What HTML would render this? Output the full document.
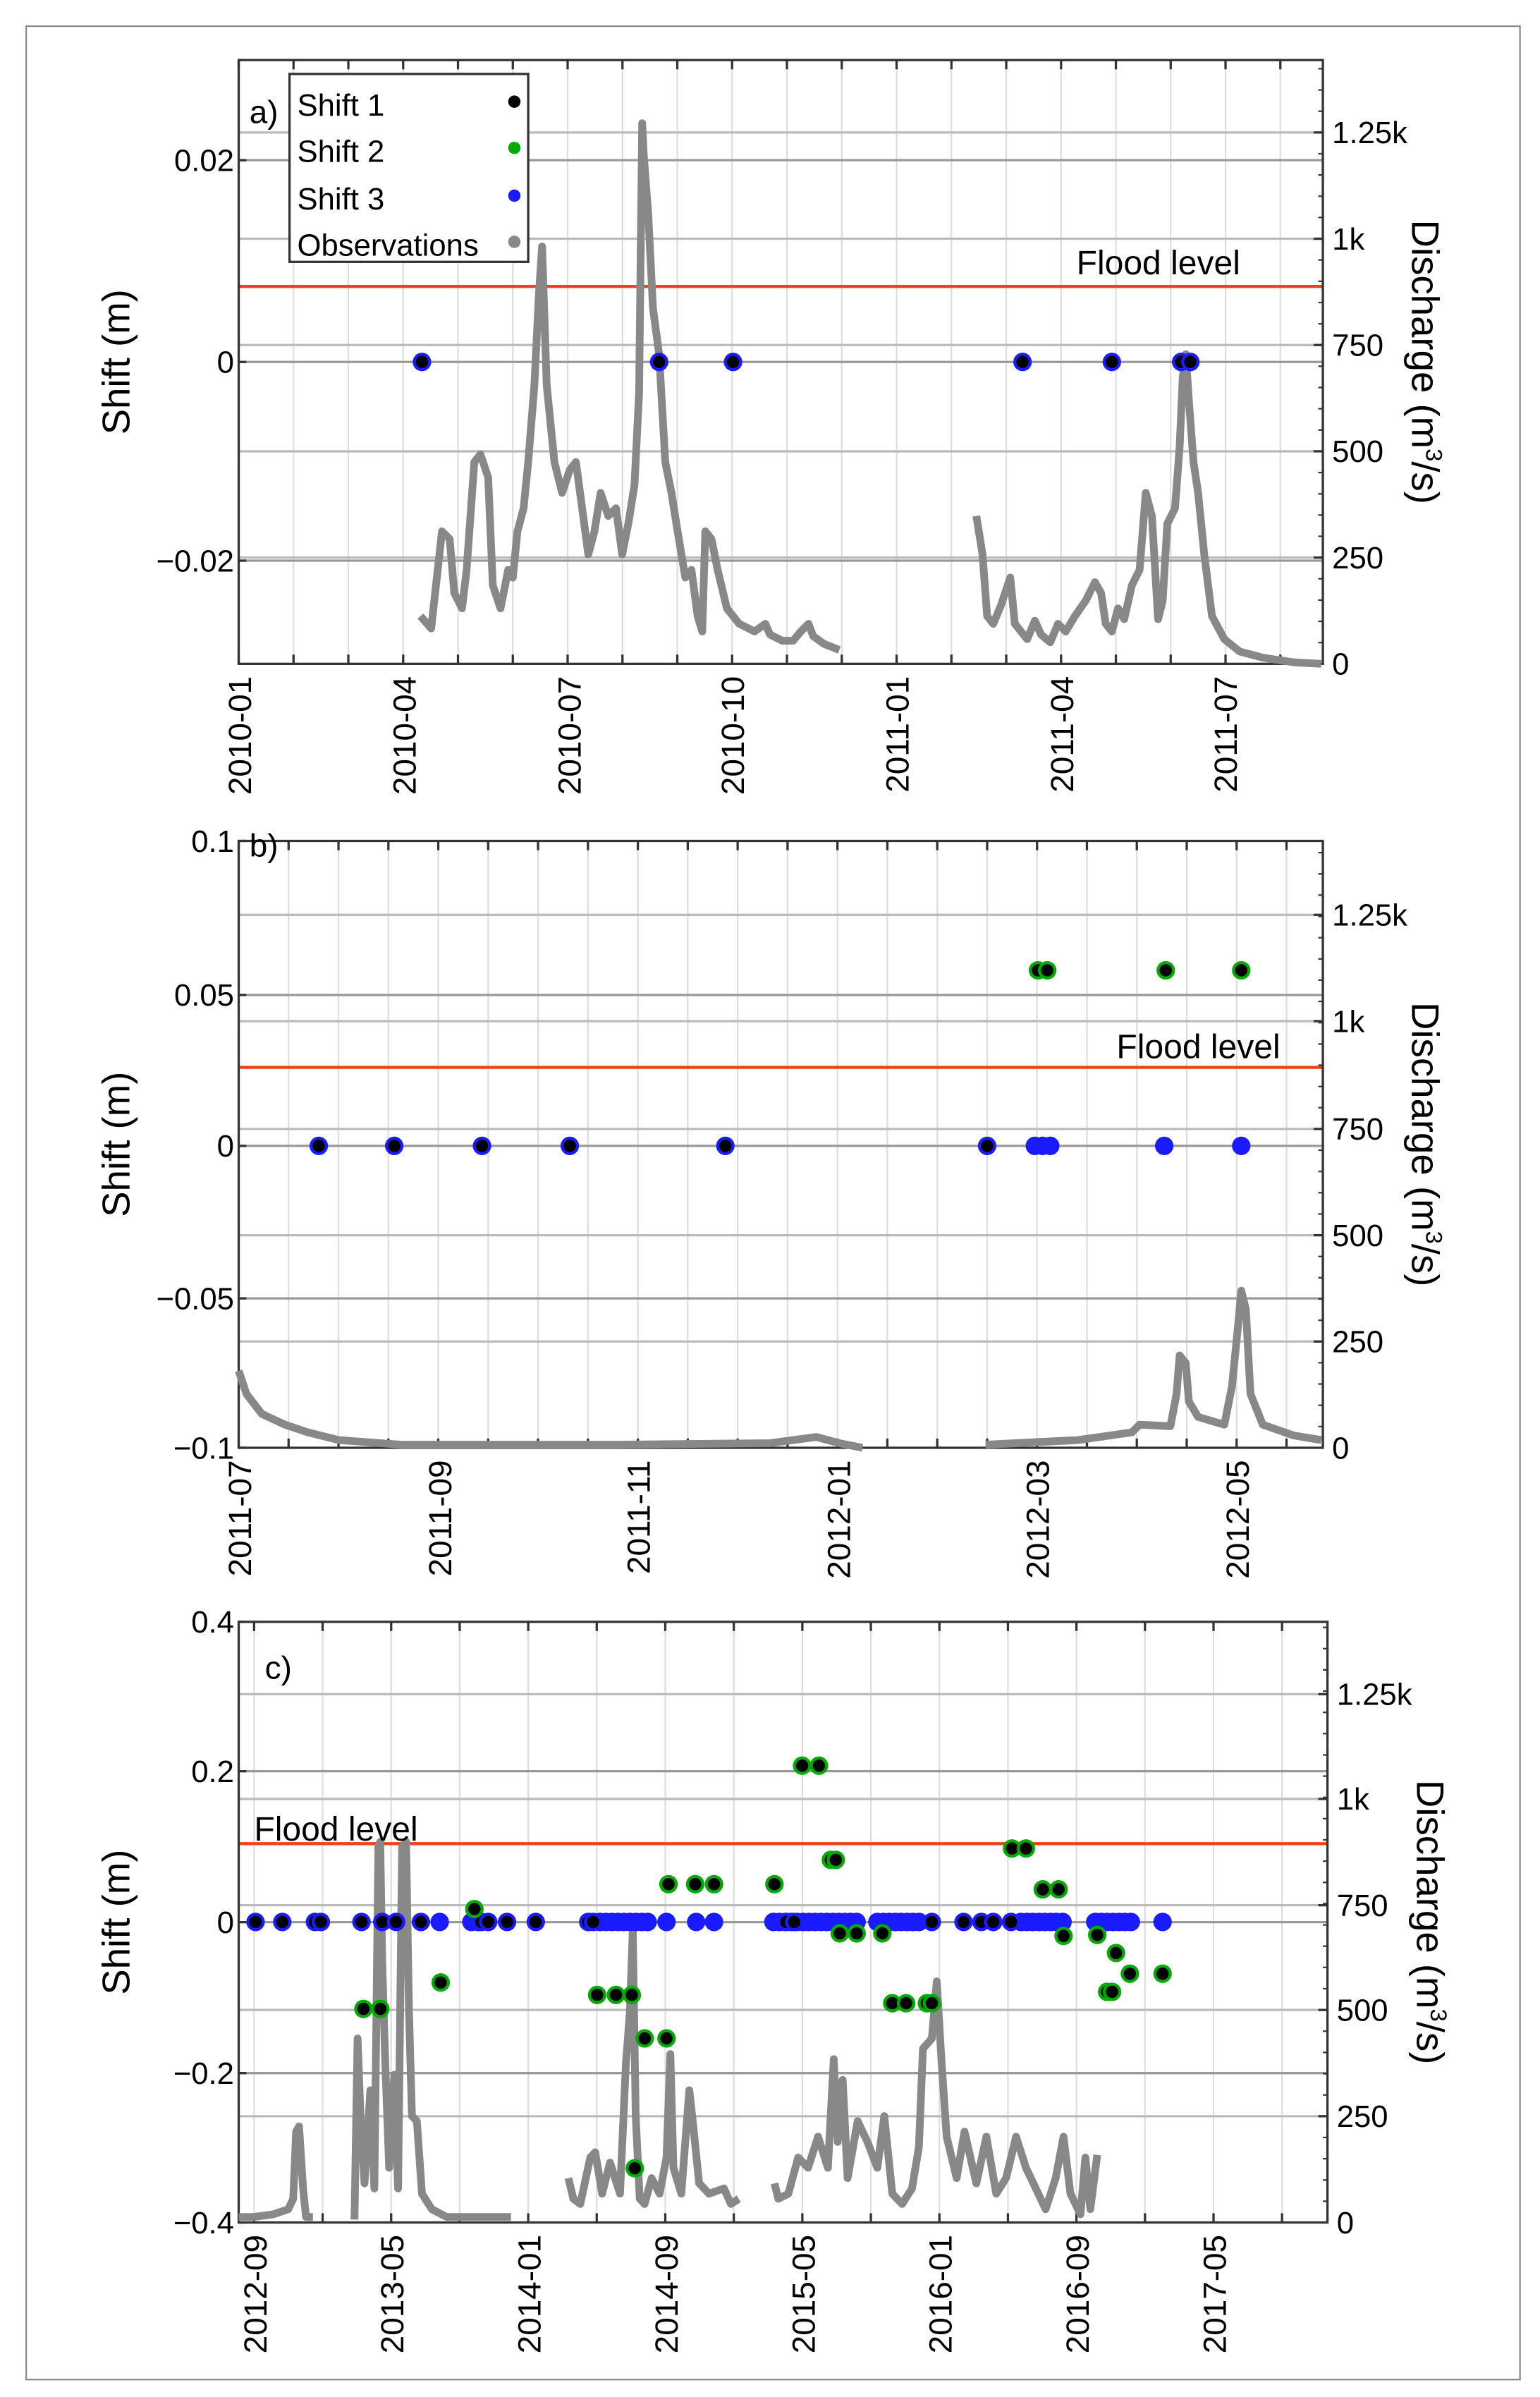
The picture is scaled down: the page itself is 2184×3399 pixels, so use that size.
<!DOCTYPE html>
<html><head><meta charset="utf-8"><style>
html,body{margin:0;padding:0;background:#fff;}
svg{display:block;font-family:"Liberation Sans",Arial,sans-serif;}
</style></head><body>
<svg id="s" width="2184" height="3399" viewBox="0 0 1000 1556.3" xmlns="http://www.w3.org/2000/svg">
<rect x="17" y="17" width="970" height="1528" fill="#fff" stroke="#888" stroke-width="1"/>
<g id="g"></g>
</svg>
<script>
var g=document.getElementById('g'),h='';
function L(x1,y1,x2,y2,c,w){h+='<line x1="'+x1+'" y1="'+y1+'" x2="'+x2+'" y2="'+y2+'" stroke="'+c+'" stroke-width="'+w+'"/>';}
function T(x,y,t,s,a,extra){h+='<text x="'+x+'" y="'+y+'" font-size="'+s+'" text-anchor="'+(a||'start')+'" '+(extra||'')+'>'+t+'</text>';}
function P(pts,fx,fy){var d='';for(var i=0;i<pts.length;i+=2)d+=(i?' ':'')+fx(pts[i]).toFixed(1)+','+fy(pts[i+1]).toFixed(1);h+='<polyline points="'+d+'" fill="none" stroke="#888" stroke-width="5" stroke-linejoin="round"/>';}
function D(x,y,t){if(t=='z')h+='<circle cx="'+x+'" cy="'+y+'" r="6" fill="#1a1aff"/><circle cx="'+x+'" cy="'+y+'" r="4" fill="#000"/>';
else if(t=='b')h+='<circle cx="'+x+'" cy="'+y+'" r="6" fill="#1a1aff"/>';
else h+='<circle cx="'+x+'" cy="'+y+'" r="6" fill="#0a0"/><circle cx="'+x+'" cy="'+y+'" r="4" fill="#000"/>';}
function I(v){return v;}
function panel(o){
 var x0=155,x1=o.x1,y0=o.y0,y1=o.y1;
 for(var x=o.vs;x<x1;x+=o.vstep)L(x,y0,x,y1,'#ddd',1);
 o.rg.forEach(function(y){L(x0,y,x1,y,'#bbb',1.5);});
 o.lg.forEach(function(y){L(x0,y,x1,y,'#999',1.5);});
 L(x0,o.flood,x1,o.flood,'#f04020',2);
 h+='<rect x="'+x0+'" y="'+y0+'" width="'+(x1-x0)+'" height="'+(y1-y0)+'" fill="none" stroke="#333" stroke-width="1.5"/>';
 for(var x=o.vs;x<x1;x+=o.vstep){L(x,y0,x,y0+6,'#333',1.5);L(x,y1,x,y1-6,'#333',1.5);}
 o.rg.forEach(function(y){L(x1,y,x1-6,y,'#333',1.5);});
 for(var y=y1;y>y0;y-=(o.rg[0]-o.rg[1])/5)L(x1,y,x1-3,y,'#333',1);
 o.ll.forEach(function(a){L(x0,a[0],x0+5,a[0],'#333',1.5);T(x0-3,a[0]+7,a[1],20,'end');});
 o.rl.forEach(function(a){T(x1+6,a[0]+7,a[1],20,'start');});
 o.xl.forEach(function(a){T(0,0,a[1],21,'end','transform="translate('+(a[0]+8)+','+(y1+8)+') rotate(-90)"');});
 T(0,0,'Shift (m)',25,'middle','transform="translate('+84+','+((y0+y1)/2)+') rotate(-90)"');
 T(0,0,'Discharge (m<tspan font-size="15" dy="-9">3</tspan><tspan dy="9">/s)</tspan>',25,'middle','transform="translate('+(x1+58)+','+((y0+y1)/2)+') rotate(90)"');
}
panel({x1:859,y0:39,y1:431,vs:155,vstep:35.6,rg:[362,293,224,155,86],lg:[104,235,364],flood:186,
 ll:[[104,'0.02'],[235,'0'],[364,'\u22120.02']],rl:[[431,'0'],[362,'250'],[293,'500'],[224,'750'],[155,'1k'],[86,'1.25k']],
 xl:[[155,'2010-01'],[262,'2010-04'],[369,'2010-07'],[475,'2010-10'],[582,'2011-01'],[689,'2011-04'],[795,'2011-07']]});
P([273,400,280,408,287,345,292,350,295,385,300,395,303,370,308,300,312,295,317,310,320,380,325,395,330,370,333,375,336,345,340,330,343,300,347,250,350,190,352,160,355,250,360,300,365,320,370,305,374,300,378,330,382,360,386,345,390,320,395,335,400,330,404,360,408,340,412,315,415,255,417,80,418,100,421,140,424,200,428,230,432,300,436,320,440,345,445,375,449,370,453,400,456,410,458,345,462,350,466,370,472,395,480,405,490,410,497,405,500,412,508,416,515,416,520,410,525,405,528,413,535,418,545,422],I,I);
P([634,335,638,360,641,400,645,405,650,393,656,375,659,405,663,410,667,415,672,403,676,412,682,417,687,405,692,410,698,400,705,390,711,378,715,385,718,405,722,410,726,395,730,402,735,380,740,370,744,320,748,335,752,402,755,390,758,340,763,330,766,290,768,245,770,230,772,260,775,300,778,320,782,360,787,400,795,415,805,423,820,427,840,430,858,431],I,I);
[274,428,476,664,722,767,773].forEach(function(x){D(x,235,'z');});
T(699,178,'Flood level',22);
h+='<rect x="188" y="48" width="155" height="122" fill="#fff" stroke="#333" stroke-width="1.5"/>';
T(162,80,'a)',21);
[['Shift 1','#000',68],['Shift 2','#0a0',98],['Shift 3','#1a1aff',129],['Observations','#888',159]].forEach(function(e){T(193,e[2]+7,e[0],20);h+='<circle cx="334" cy="'+(e[2]-2)+'" r="4" fill="'+e[1]+'"/>';});
panel({x1:859,y0:546,y1:940,vs:155,vstep:32.4,rg:[871,802,733,663,594],lg:[646,744,843],flood:693,
 ll:[[546,'0.1'],[646,'0.05'],[744,'0'],[843,'\u22120.05'],[940,'\u22120.1']],rl:[[940,'0'],[871,'250'],[802,'500'],[733,'750'],[663,'1k'],[594,'1.25k']],
 xl:[[155,'2011-07'],[285,'2011-09'],[414,'2011-11'],[544,'2012-01'],[673,'2012-03'],[803,'2012-05']]});
P([155,890,160,905,170,918,185,925,200,930,220,935,260,938,400,938,500,937,530,933,545,937,560,940],I,I);
P([640,938,700,935,735,930,740,925,760,926,764,905,766,880,770,885,772,910,778,920,795,925,800,900,804,860,806,838,809,850,812,905,820,925,840,932,858,935],I,I);
[207,256,313,370,471,641].forEach(function(x){D(x,744,'z');});
[672,677,682,756,806].forEach(function(x){D(x,744,'b');});
[674,680,757,806].forEach(function(x){D(x,630,'g');});
T(725,687,'Flood level',22);
T(162,556,'b)',21);
panel({x1:862,y0:1053,y1:1443,vs:165,vstep:44.5,rg:[1374,1305,1237,1168,1100],lg:[1150,1248,1346],flood:1197,
 ll:[[1053,'0.4'],[1150,'0.2'],[1248,'0'],[1346,'\u22120.2'],[1443,'\u22120.4']],rl:[[1443,'0'],[1374,'250'],[1305,'500'],[1237,'750'],[1168,'1k'],[1100,'1.25k']],
 xl:[[165,'2012-09'],[254,'2013-05'],[343,'2014-01'],[432,'2014-09'],[521,'2015-05'],[610,'2016-01'],[699,'2016-09'],[788,'2017-05']]});
function cx(z){return 155+(z-245)*0.643;}function cy(z){return 1053+(z-45)*0.336;}
[[245,1195,260,1195,280,1190,295,1180,300,1160,303,1030,306,1020,310,1140,313,1195,320,1195],
[362,1200,365,850,368,1000,372,1130,378,950,382,1140,386,480,388,470,390,700,393,900,397,1100,402,920,406,1140,410,480,414,470,417,800,420,1000,425,1010,430,1150,440,1180,455,1195,520,1195],
[578,1120,583,1160,590,1170,600,1080,605,1070,612,1150,620,1090,630,1150,636,900,640,800,643,640,646,1000,650,1160,655,1170,662,1120,670,1150,677,1080,681,880,684,1100,692,1150,700,950,703,1000,710,1130,720,1150,735,1140,742,1170,750,1160],
[786,1130,790,1160,800,1150,810,1080,820,1100,830,1040,840,1100,846,890,850,1050,855,930,860,1120,870,1010,880,1050,890,1100,897,1000,905,1150,915,1170,925,1140,932,1060,936,870,945,850,950,740,955,900,960,1040,970,1120,978,1030,990,1130,1000,1040,1010,1150,1020,1120,1030,1040,1040,1100,1050,1140,1060,1180,1070,1120,1078,1040,1085,1150,1095,1190,1100,1080,1105,1180,1112,1075]].forEach(function(s){P(s,cx,cy);});
var zy=cy(625);
var blue=[448,480,487,677,707,725,1178];
for(var z=610;z<=660;z+=6)blue.push(z);
for(var z=785;z<=870;z+=6)blue.push(z);
for(var z=890;z<=935;z+=6)blue.push(z);
for(var z=1035;z<=1080;z+=6)blue.push(z);
for(var z=1110;z<=1150;z+=6)blue.push(z);
blue.forEach(function(z){D(cx(z),zy,'b');});
[262,289,322,328,369,390,404,429,490,497,516,545,598,603,798,806,945,977,995,1007,1025].forEach(function(z){D(cx(z),zy,'z');});
[[483,600],[449,742],[371,793],[388,793],[607,766],[626,766],[642,766],[655,850],[677,850],[645,1101],[679,552],[706,552],[725,552],[786,552],[814,323],[831,323],[843,505],[848,505],[852,647],[869,647],[895,647],[905,782],[919,782],[940,782],[945,782],[1026,483],[1040,483],[1057,562],[1073,562],[1078,652],[1112,650],[1131,685],[1145,725],[1122,760],[1127,760],[1178,725]].forEach(function(p){D(cx(p[0]),cy(p[1]),'g');});
T(165,1195,'Flood level',22);
T(172,1090,'c)',21);
g.innerHTML=h;
</script>
</body></html>
